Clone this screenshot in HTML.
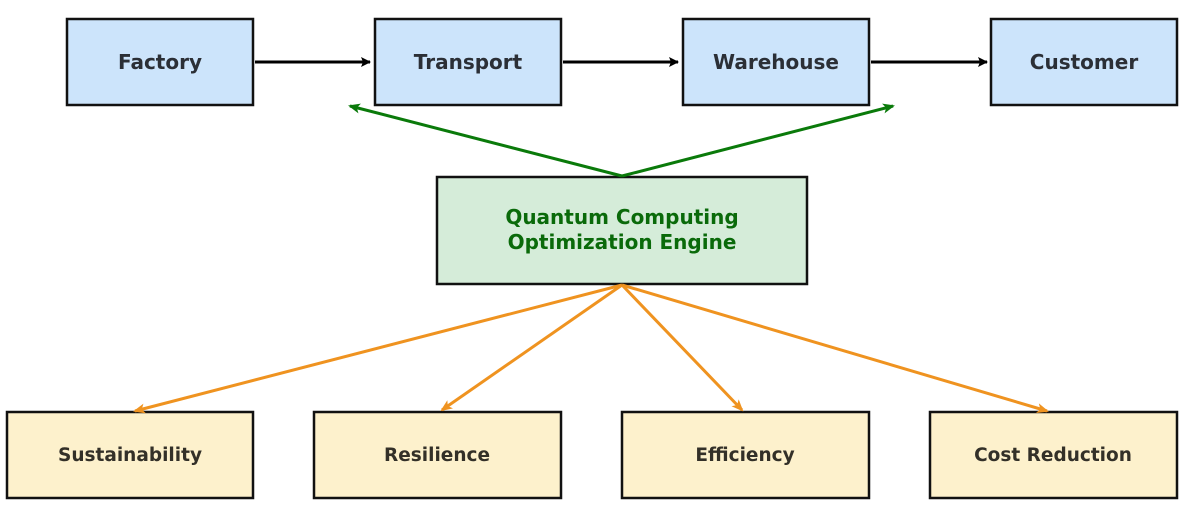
<!DOCTYPE html>
<html><head><meta charset="utf-8"><style>
html,body{margin:0;padding:0;background:#fff;width:1200px;height:521px;overflow:hidden}
svg text{font-family:"DejaVu Sans","Liberation Sans",sans-serif;font-weight:bold}
</style></head><body>
<svg width="1200" height="521" viewBox="0 0 1200 521" xmlns="http://www.w3.org/2000/svg">
<defs>
<marker id="ab" markerWidth="10" markerHeight="10" refX="9" refY="5" orient="auto" markerUnits="userSpaceOnUse"><path d="M0,0 L10,5 L0,10 L2,5 Z" fill="#000"/></marker>
<marker id="ag" markerWidth="12" markerHeight="10" refX="10" refY="5" orient="auto" markerUnits="userSpaceOnUse"><path d="M0,0 L12,5 L0,10 L3,5 Z" fill="#0a7a0a"/></marker>
<marker id="ao" markerWidth="12" markerHeight="10" refX="10" refY="5" orient="auto" markerUnits="userSpaceOnUse"><path d="M0,0 L12,5 L0,10 L3,5 Z" fill="#ef9320"/></marker>
</defs>
<g stroke="#111" stroke-width="2.5" fill="#cce4fb">
<rect x="67" y="19" width="186" height="86"/>
<rect x="375" y="19" width="186" height="86"/>
<rect x="683" y="19" width="186" height="86"/>
<rect x="991" y="19" width="186" height="86"/>
</g>
<rect x="437" y="177" width="370" height="107" fill="#d5ecd9" stroke="#111" stroke-width="2.5"/>
<g stroke="#111" stroke-width="2.5" fill="#fdf1cc">
<rect x="7" y="412" width="246" height="86"/>
<rect x="314" y="412" width="247" height="86"/>
<rect x="622" y="412" width="247" height="86"/>
<rect x="930" y="412" width="247" height="86"/>
</g>
<g stroke="#000" stroke-width="3" marker-end="url(#ab)">
<line x1="255" y1="62" x2="370" y2="62"/>
<line x1="563" y1="62" x2="678" y2="62"/>
<line x1="871" y1="62" x2="987" y2="62"/>
</g>
<g stroke="#0a7a0a" stroke-width="3" marker-end="url(#ag)">
<line x1="622" y1="176" x2="350" y2="106"/>
<line x1="622" y1="176" x2="893" y2="106"/>
</g>
<g stroke="#ef9320" stroke-width="3" marker-end="url(#ao)">
<line x1="622" y1="285" x2="135" y2="411"/>
<line x1="622" y1="285" x2="442" y2="410"/>
<line x1="622" y1="285" x2="742" y2="410"/>
<line x1="622" y1="285" x2="1047" y2="411"/>
</g>
<g fill="#2b2f36" font-size="20" text-anchor="middle">
<text x="160" y="69">Factory</text>
<text x="468" y="69">Transport</text>
<text x="776" y="69">Warehouse</text>
<text x="1084" y="69">Customer</text>
</g>
<g fill="#0a6a0a" font-size="20" text-anchor="middle">
<text x="622" y="224">Quantum Computing</text>
<text x="622" y="249">Optimization Engine</text>
</g>
<g fill="#333028" font-size="18.5" text-anchor="middle">
<text x="130" y="461">Sustainability</text>
<text x="437" y="461">Resilience</text>
<text x="745" y="461">Efficiency</text>
<text x="1053" y="461">Cost Reduction</text>
</g>
</svg>
</body></html>
